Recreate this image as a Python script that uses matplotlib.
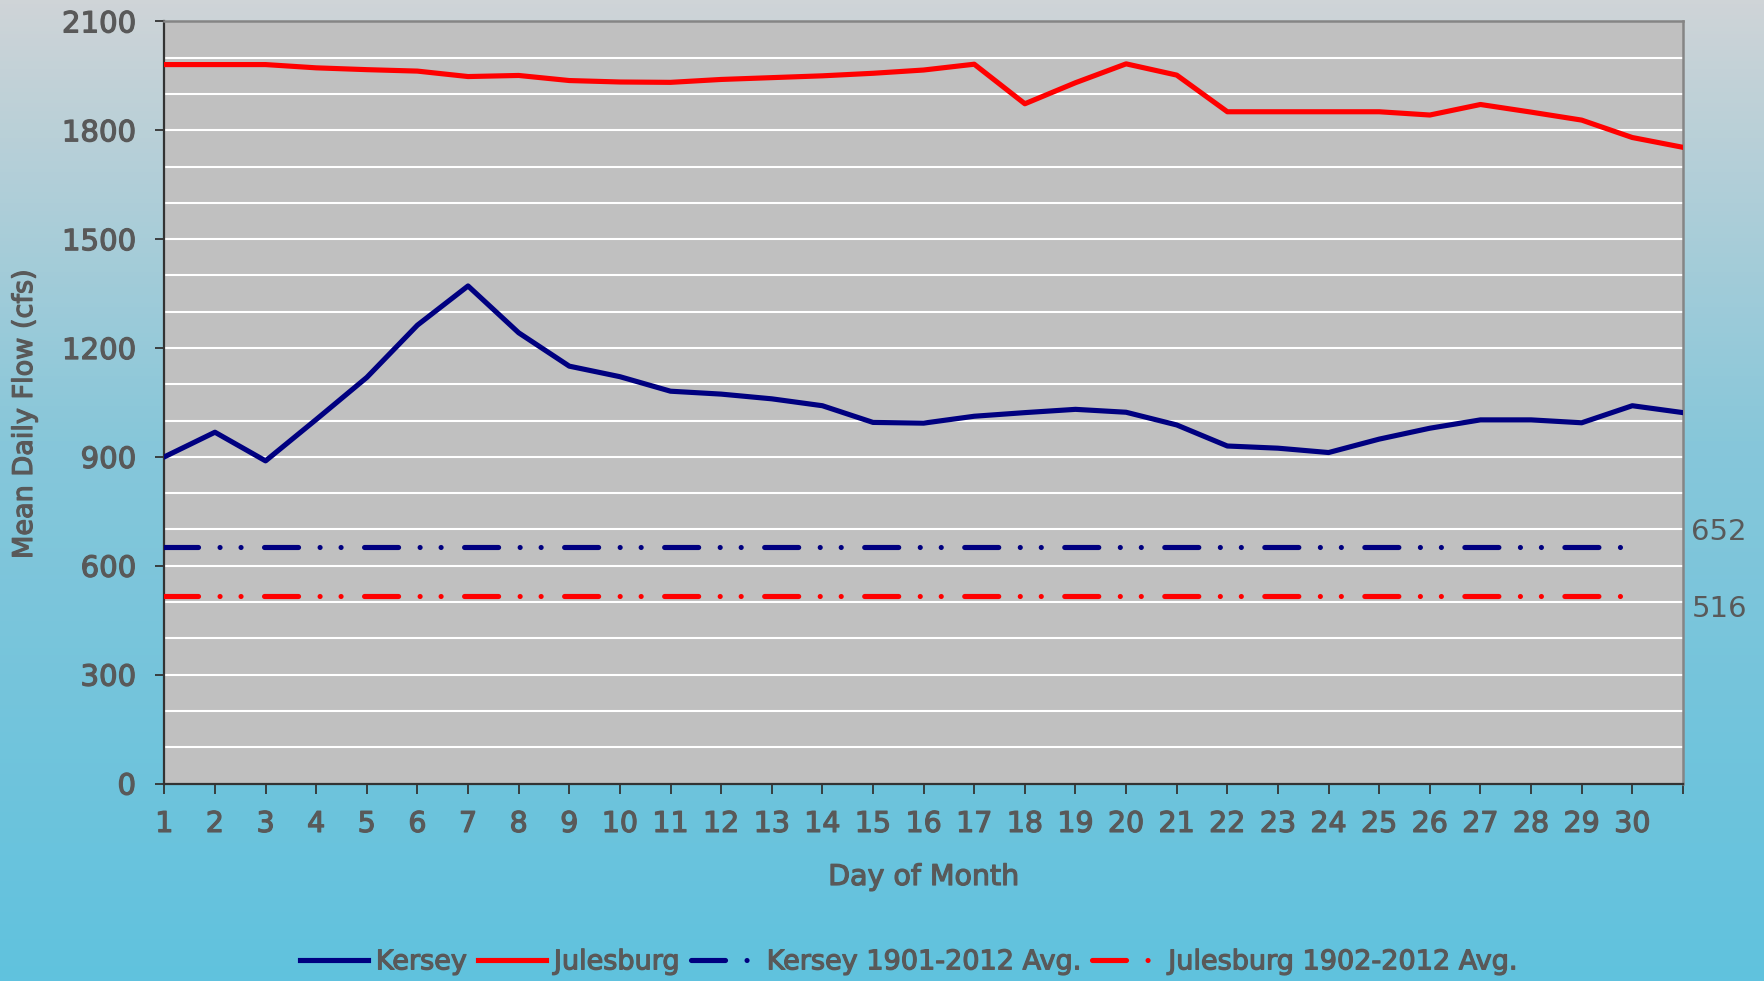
import numpy as np
import matplotlib
matplotlib.use("Agg")
import matplotlib.pyplot as plt
import matplotlib.patheffects as pe
from matplotlib.colors import LinearSegmentedColormap

plt.rcParams['font.family'] = ['DejaVu Sans']
plt.rcParams['lines.scale_dashes'] = False

# ---- data ----
days = list(range(1, 32))
day_labels = [str(d) for d in range(1, 31)] + [""]
kersey = [900, 968, 889, 1003, 1119, 1263, 1371, 1242, 1150, 1121, 1081,
          1073, 1060, 1041, 995, 993, 1012, 1022, 1031, 1023, 988,
          930, 924, 912, 949, 979, 1002, 1002, 994, 1041, 1022]
julesburg = [1981, 1981, 1981, 1972, 1967, 1963, 1948, 1951, 1937, 1933, 1932,
             1940, 1945, 1950, 1957, 1966, 1982, 1873, 1931, 1983, 1952,
             1851, 1851, 1851, 1851, 1842, 1871, 1850, 1828, 1780, 1753]
avg_days = list(range(1, 31))
kersey_avg = 652
julesburg_avg = 516
series_names = ["Kersey", "Julesburg", "Kersey 1901-2012 Avg.", "Julesburg 1902-2012 Avg."]

TXT = '#595959'
NAVY = '#000080'
RED = '#ff0000'
stroke = [pe.withStroke(linewidth=0.9, foreground=TXT)]

fig = plt.figure(figsize=(17.65, 9.81), dpi=100)

# background gradient
bg = fig.add_axes([0, 0, 1, 1], zorder=-10)
cmap = LinearSegmentedColormap.from_list(
    'bg', [(0.0, (207/255, 212/255, 215/255)),
           (0.45, (135/255, 199/255, 218/255)),
           (1.0, (96/255, 194/255, 222/255))])
grad = np.linspace(0, 1, 256).reshape(-1, 1)
bg.imshow(grad, aspect='auto', cmap=cmap, extent=[0, 1, 0, 1], origin='upper')
bg.set_axis_off()

ax = fig.add_axes([0.0931, 0.2013, 0.8604, 0.7769])
ax.set_facecolor('#c0c0c0')

ax.set_xlim(1, 31)
ax.set_ylim(0, 2100)

# gridlines every 100
for v in range(100, 2100, 100):
    ax.axhline(v, color='white', lw=1.5, zorder=1)

lw = 3.7
ax.plot(days, kersey, color=NAVY, lw=lw, solid_joinstyle='round', zorder=3, label=series_names[0])
ax.plot(days, julesburg, color=RED, lw=lw, solid_joinstyle='round', zorder=3, label=series_names[1])
dash = [24.5, 15.5, 0.01, 15.1, 0.01, 16.9]
ax.plot(avg_days, [kersey_avg] * len(avg_days), color=NAVY, lw=lw, dashes=dash,
        dash_capstyle='round', zorder=3, label=series_names[2])
ax.plot(avg_days, [julesburg_avg] * len(avg_days), color=RED, lw=lw, dashes=dash,
        dash_capstyle='round', zorder=3, label=series_names[3])

# value labels at right
ax.annotate(str(kersey_avg), xy=(31, kersey_avg), xytext=(6, 11), textcoords='offset points',
            ha='left', va='center', fontsize=21, color=TXT, annotation_clip=False)
ax.annotate(str(julesburg_avg), xy=(31, julesburg_avg), xytext=(6, -9), textcoords='offset points',
            ha='left', va='center', fontsize=21, color=TXT, annotation_clip=False)

# ticks
ax.set_yticks(range(0, 2101, 300))
ax.set_yticklabels([str(v) for v in range(0, 2101, 300)])
ax.set_xticks(days)
ax.set_xticklabels(day_labels)
ax.tick_params(axis='y', direction='out', length=6.5, width=1.3, color='#333333',
               labelsize=21, labelcolor=TXT, pad=14)
ax.tick_params(axis='x', direction='out', length=7, width=1.3, color='#333333',
               labelsize=20.5, labelcolor=TXT, pad=12)
for lab in ax.get_xticklabels() + ax.get_yticklabels():
    lab.set_path_effects(stroke)

for side in ['left', 'bottom']:
    ax.spines[side].set_color('#333333')
    ax.spines[side].set_linewidth(1.6)
for side in ['top', 'right']:
    ax.spines[side].set_color('#858585')
    ax.spines[side].set_linewidth(1.8)

fig.text(0.5233, 1 - 877 / 981, "Day of Month", ha='center', va='center',
         fontsize=20.5, color=TXT, path_effects=stroke)
fig.text(25 / 1765, 1 - 414 / 981, "Mean Daily Flow (cfs)", ha='center', va='center',
         rotation=90, fontsize=19.5, color=TXT, path_effects=stroke)

leg = fig.legend(*ax.get_legend_handles_labels(), loc='center', bbox_to_anchor=(0.515, 0.019),
                 ncol=4, frameon=False, handlelength=2.5, handletextpad=0.3,
                 columnspacing=0.4, prop={'size': 19.5})
for t in leg.get_texts():
    t.set_color(TXT)
    t.set_path_effects(stroke)

fig.savefig('out.png', dpi=100)
